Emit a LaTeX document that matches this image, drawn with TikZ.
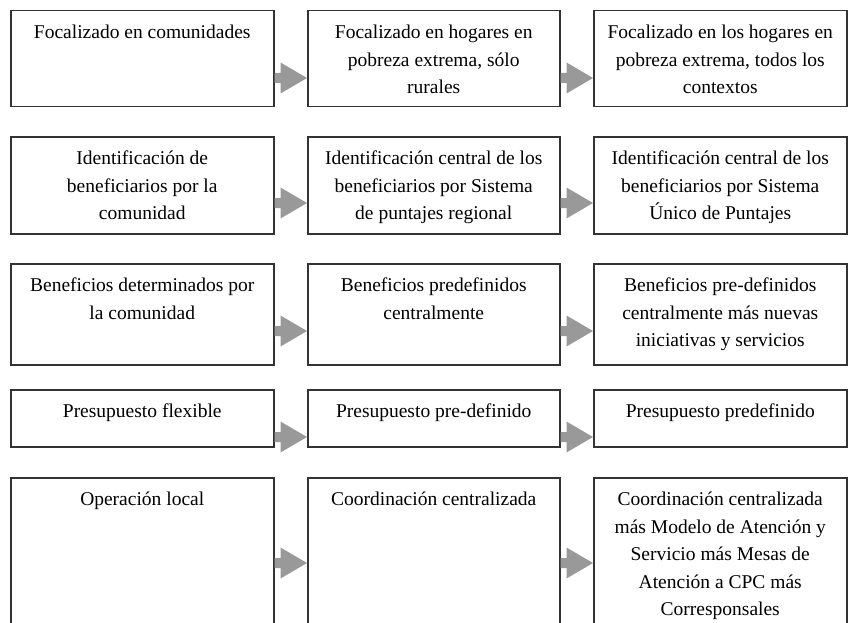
\documentclass[tikz,border=0pt]{standalone}
\usepackage{fontspec}
\setmainfont{Liberation Serif}
\usetikzlibrary{calc}
\newcommand{\boxtext}[3]{\parbox[c][#2pt][t]{#1pt}{\centering\rule{0pt}{28pt}#3}}
\newcommand{\blockarrow}[3]{%
  \fill[arrowfill] ($(#1.east |- #3)+(0,-5)$) -- ++(6,0) -- ++(0,-10.5) -- (#2.west |- #3)
    -- ($(#1.east |- #3)+(6,15.5)$) -- ++(0,-10.5) -- ++(-6,0) -- cycle;}
\tikzset{
  box/.style={draw=black!80, line width=1.5pt, inner xsep=4pt, inner ysep=0pt,
    anchor=north west, font=\fontsize{19.5}{27.5}\selectfont},
  arrowfill/.style={fill=black!40}
}
\begin{document}
\begin{tikzpicture}[x=1pt,y=-1pt]
\clip (0,0) rectangle (848,623);
\fill[white] (0,0) rectangle (848,623);
% row 1
\node[box] (a1) at (10,10) {\boxtext{255}{96}{Focalizado en comunidades}};
\node[box] (b1) at (307,10) {\boxtext{244}{96}{Focalizado en hogares en\\pobreza extrema, sólo\\rurales}};
\node[box] (c1) at (593,10) {\boxtext{245}{96}{Focalizado en los hogares en\\pobreza extrema, todos los\\contextos}};
% row 2
\node[box] (a2) at (10,136) {\boxtext{255}{97}{Identificación de\\beneficiarios por la\\comunidad}};
\node[box] (b2) at (307,136) {\boxtext{244}{97}{Identificación central de los\\beneficiarios por Sistema\\de puntajes regional}};
\node[box] (c2) at (593,136) {\boxtext{245}{97}{Identificación central de los\\beneficiarios por Sistema\\Único de Puntajes}};
% row 3
\node[box] (a3) at (10,263) {\boxtext{255}{101}{Beneficios determinados por\\la comunidad}};
\node[box] (b3) at (307,263) {\boxtext{244}{101}{Beneficios predefinidos\\centralmente}};
\node[box] (c3) at (593,263) {\boxtext{245}{101}{Beneficios pre-definidos\\centralmente más nuevas\\iniciativas y servicios}};
% row 4
\node[box] (a4) at (10,389) {\boxtext{255}{57}{Presupuesto flexible}};
\node[box] (b4) at (307,389) {\boxtext{244}{57}{Presupuesto pre-definido}};
\node[box] (c4) at (593,389) {\boxtext{245}{57}{Presupuesto predefinido}};
% row 5
\node[box] (a5) at (10,477) {\boxtext{255}{170}{Operación local}};
\node[box] (b5) at (307,477) {\boxtext{244}{170}{Coordinación centralizada}};
\node[box] (c5) at (593,477) {\boxtext{245}{170}{Coordinación centralizada\\más Modelo de Atención y\\Servicio más Mesas de\\Atención a CPC más\\Corresponsales}};
% arrow levels
\coordinate (y1) at (0,78);
\coordinate (y2) at (0,203);
\coordinate (y3) at (0,331);
\coordinate (y4) at (0,437);
\coordinate (y5) at (0,563);
\blockarrow{a1}{b1}{y1}
\blockarrow{b1}{c1}{y1}
\blockarrow{a2}{b2}{y2}
\blockarrow{b2}{c2}{y2}
\blockarrow{a3}{b3}{y3}
\blockarrow{b3}{c3}{y3}
\blockarrow{a4}{b4}{y4}
\blockarrow{b4}{c4}{y4}
\blockarrow{a5}{b5}{y5}
\blockarrow{b5}{c5}{y5}
\end{tikzpicture}
\end{document}
